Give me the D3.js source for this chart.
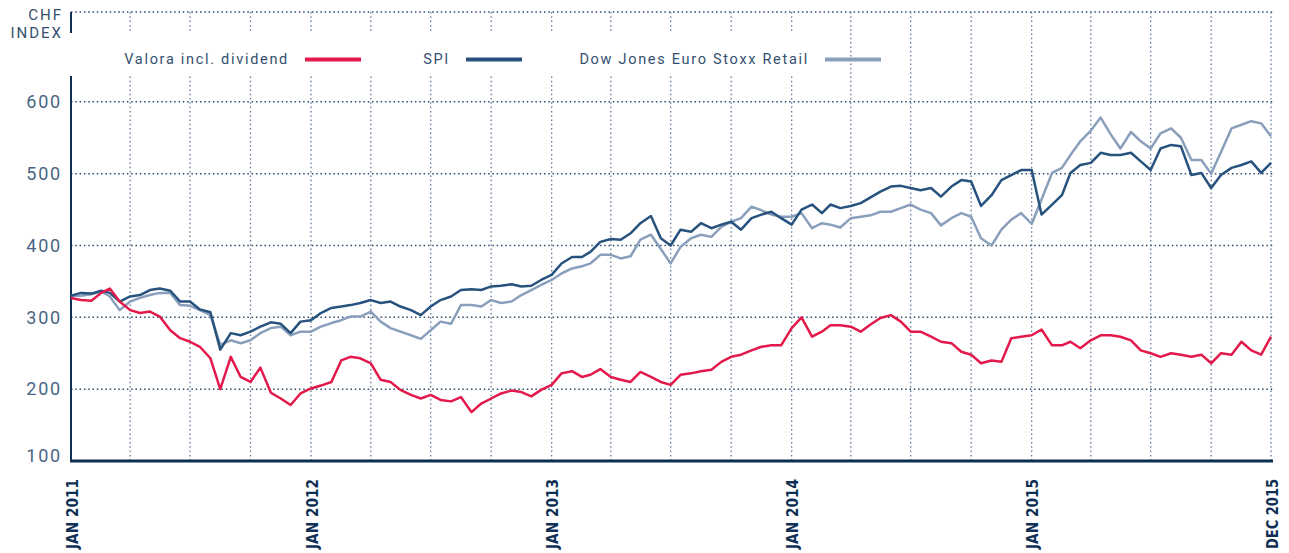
<!DOCTYPE html>
<html>
<head>
<meta charset="utf-8">
<script src="https://cdn.jsdelivr.net/npm/d3@7"></script>
<style>
    body { margin: 0; background: #fff; }
    .legend-text { font-family: Roboto, "Open Sans", sans-serif; font-size: 14.5px; letter-spacing: 1.7px; fill: #34506e; }
    .unit-text { font-family: Roboto, "Open Sans", sans-serif; font-size: 15px; letter-spacing: 2px; fill: #34506e; }
    .y-label { font-family: Roboto, "Open Sans", sans-serif; font-size: 18px; letter-spacing: 1.8px; fill: #4a6585; }
    .x-label { font-family: "DejaVu Sans", sans-serif; font-weight: bold; font-size: 16px; fill: #0f2f55; }
</style>
</head>
<body>
<div id="chart"></div>
<script>

// semi-monthly samples, Jan 2011 .. Dec 2015 (24 per year + closing value)
const years = [2011, 2012, 2013, 2014, 2015];
const endDate = "2015-12-31";

const spiValues = [
    330, 334, 333, 337, 334, 322, 329, 331, 338, 340, 337, 322, 322, 311, 307, 255, 278, 275, 280, 287, 293, 291, 278, 294,
    296, 306, 313, 315, 317, 320, 324, 320, 322, 315, 310, 303, 315, 324, 329, 338, 339, 338, 343, 344, 346, 343, 344, 352,
    359, 375, 384, 384, 391, 405, 409, 408, 417, 431, 441, 410, 400, 422, 419, 431, 424, 429, 433, 422, 438, 443, 447, 438,
    429, 450, 457, 445, 457, 452, 455, 459, 467, 475, 482, 483, 480, 477, 480, 468, 482, 491, 489, 455, 470, 491, 498, 505,
    505, 443, 457, 470, 501, 512, 515, 529, 526, 526, 529, 517, 505, 535, 540, 538, 498, 501, 480, 498, 508, 512, 517, 501,
    515
];

const stoxxValues = [
    330, 330, 332, 336, 329, 310, 322, 327, 331, 334, 334, 317, 316, 310, 303, 262, 268, 264, 268, 278, 285, 287, 275, 280,
    280, 287, 292, 296, 301, 301, 308, 294, 285, 280, 275, 270, 282, 294, 291, 317, 317, 315, 324, 320, 322, 331, 338, 345,
    352, 361, 368, 371, 375, 387, 387, 382, 385, 408, 415, 395, 375, 398, 410, 415, 412, 426, 433, 438, 454, 449, 443, 440,
    440, 445, 424, 431, 429, 425, 438, 440, 442, 447, 447, 452, 457, 450, 445, 428, 438, 445, 440, 410, 400, 422, 436, 445,
    430, 464, 501, 508, 526, 545, 560, 578, 555, 535, 558, 545, 535, 556, 563, 550, 519, 519, 500, 530, 563, 568, 573, 570,
    552
];

const valoraValues = [
    327, 324, 323, 334, 340, 322, 310, 306, 308, 301, 282, 271, 266, 259, 243, 200, 245, 217, 210, 230, 195, 187, 178, 194,
    201, 205, 210, 240, 245, 243, 236, 213, 210, 199, 192, 187, 192, 185, 183, 189, 168, 180, 187, 194, 198, 196, 190, 199,
    206, 222, 225, 217, 220, 228, 217, 213, 210, 224, 217, 210, 206, 220, 222, 225, 227, 238, 245, 248, 254, 259, 261, 261,
    285, 300, 273, 280, 289, 289, 287, 280, 290, 299, 303, 294, 280, 280, 273, 266, 264, 252, 248, 236, 240, 238, 271, 273,
    275, 283, 261, 261, 266, 257, 268, 275, 275, 273, 268, 254, 250, 245, 250, 248, 245, 248, 236, 250, 248, 266, 254, 248,
    273
];

const seriesNames = ["Valora incl. dividend", "SPI", "Dow Jones Euro Stoxx Retail"];
const seriesColors = ["#e3194b", "#26527d", "#8a9fbb"];

const yTicks = [100, 200, 300, 400, 500, 600];
const xTickDates = ["2011-01-01", "2012-01-01", "2013-01-01", "2014-01-01", "2015-01-01", "2015-12-31"];
const xTickLabels = ["JAN 2011", "JAN 2012", "JAN 2013", "JAN 2014", "JAN 2015", "DEC 2015"];


class IndexChart {

    constructor(parentElement) {
        this.parentElement = parentElement;
        this.initVis();
    }

    initVis() {
        let vis = this;

        vis.width = 1289;
        vis.height = 553;
        vis.left = 71;
        vis.right = 1271;
        vis.bottom = 461;
        vis.top = 12;

        let parse = d3.timeParse("%Y-%m-%d");

        // sample dates: 1st and 16th of each month
        vis.dates = [];
        years.forEach(yr => {
            for (let m = 0; m < 12; m++) {
                vis.dates.push(new Date(yr, m, 1));
                vis.dates.push(new Date(yr, m, 16));
            }
        });
        vis.dates.push(parse(endDate));

        vis.x = d3.scaleTime()
            .domain([new Date(2011, 0, 1), parse(endDate)])
            .range([vis.left, vis.right]);

        vis.y = d3.scaleLinear()
            .domain([100, 725])
            .range([vis.bottom, vis.top]);

        vis.svg = d3.select("#" + vis.parentElement).append("svg")
            .attr("width", vis.width)
            .attr("height", vis.height);

        // horizontal grid
        vis.svg.append("g")
            .selectAll("line")
            .data(yTicks.slice(1).concat([725]))
            .enter()
            .append("line")
            .attr("x1", vis.left)
            .attr("x2", vis.right + 2)
            .attr("y1", d => vis.y(d))
            .attr("y2", d => vis.y(d))
            .attr("stroke", "#2c4c72")
            .attr("stroke-width", 1.5)
            .attr("stroke-dasharray", "1.5,2.8");

        // vertical grid, quarterly
        let quarters = d3.timeMonth.every(3).range(new Date(2011, 3, 1), new Date(2016, 0, 1));
        quarters.push(parse(endDate));
        vis.svg.append("g")
            .selectAll("line")
            .data(quarters)
            .enter()
            .append("line")
            .attr("x1", d => vis.x(d))
            .attr("x2", d => vis.x(d))
            .attr("y1", vis.top)
            .attr("y2", vis.bottom)
            .attr("stroke", "#5f7a9a")
            .attr("stroke-width", 1.3)
            .attr("stroke-dasharray", "1.5,2.8");

        // left axis line
        vis.svg.append("line")
            .attr("x1", vis.left).attr("x2", vis.left)
            .attr("y1", vis.top).attr("y2", vis.bottom)
            .attr("stroke", "#0f2f55")
            .attr("stroke-width", 2);

        // legend band covers the grid
        vis.svg.append("rect")
            .attr("x", 64).attr("y", 33)
            .attr("width", 782).attr("height", 43)
            .attr("fill", "#fff");

        // lines
        let line = d3.line()
            .x((d, i) => vis.x(vis.dates[i]))
            .y(d => vis.y(d));

        [stoxxValues, spiValues, valoraValues].forEach((vals, k) => {
            vis.svg.append("path")
                .datum(vals)
                .attr("fill", "none")
                .attr("stroke", seriesColors[2 - k])
                .attr("stroke-width", 2.5)
                .attr("stroke-linejoin", "round")
                .attr("d", line);
        });

        // bottom axis line
        vis.svg.append("line")
            .attr("x1", vis.left - 1).attr("x2", vis.right + 2)
            .attr("y1", vis.bottom).attr("y2", vis.bottom)
            .attr("stroke", "#0f2f55")
            .attr("stroke-width", 3);

        // y labels
        vis.svg.append("g")
            .selectAll("text")
            .data(yTicks)
            .enter()
            .append("text")
            .attr("class", "y-label")
            .attr("x", 62)
            .attr("y", d => d === 100 ? vis.y(d) - 5 : vis.y(d))
            .attr("dy", "0.35em")
            .attr("text-anchor", "end")
            .text(d => d);

        // x labels (condensed to fit under the axis)
        vis.svg.append("g")
            .selectAll("text")
            .data(xTickDates)
            .enter()
            .append("text")
            .attr("class", "x-label")
            .attr("transform", d => `translate(${vis.x(parse(d)) + 1}, 479) rotate(-90)`)
            .attr("dy", "0.36em")
            .attr("text-anchor", "end")
            .attr("textLength", 70)
            .attr("lengthAdjust", "spacingAndGlyphs")
            .text((d, i) => xTickLabels[i]);

        // unit
        vis.svg.append("text")
            .attr("class", "unit-text")
            .attr("x", 63).attr("y", 20)
            .attr("text-anchor", "end")
            .text("CHF");
        vis.svg.append("text")
            .attr("class", "unit-text")
            .attr("x", 63).attr("y", 38)
            .attr("text-anchor", "end")
            .text("INDEX");

        // legend
        let legendX = [305, 466, 825];
        seriesNames.forEach((name, i) => {
            vis.svg.append("text")
                .attr("class", "legend-text")
                .attr("x", legendX[i] - 16)
                .attr("y", 64)
                .attr("text-anchor", "end")
                .text(name);
            vis.svg.append("line")
                .attr("x1", legendX[i]).attr("x2", legendX[i] + 56)
                .attr("y1", 59.5).attr("y2", 59.5)
                .attr("stroke", seriesColors[i])
                .attr("stroke-width", 4);
        });
    }
}

new IndexChart("chart");
</script>
</body>
</html>
